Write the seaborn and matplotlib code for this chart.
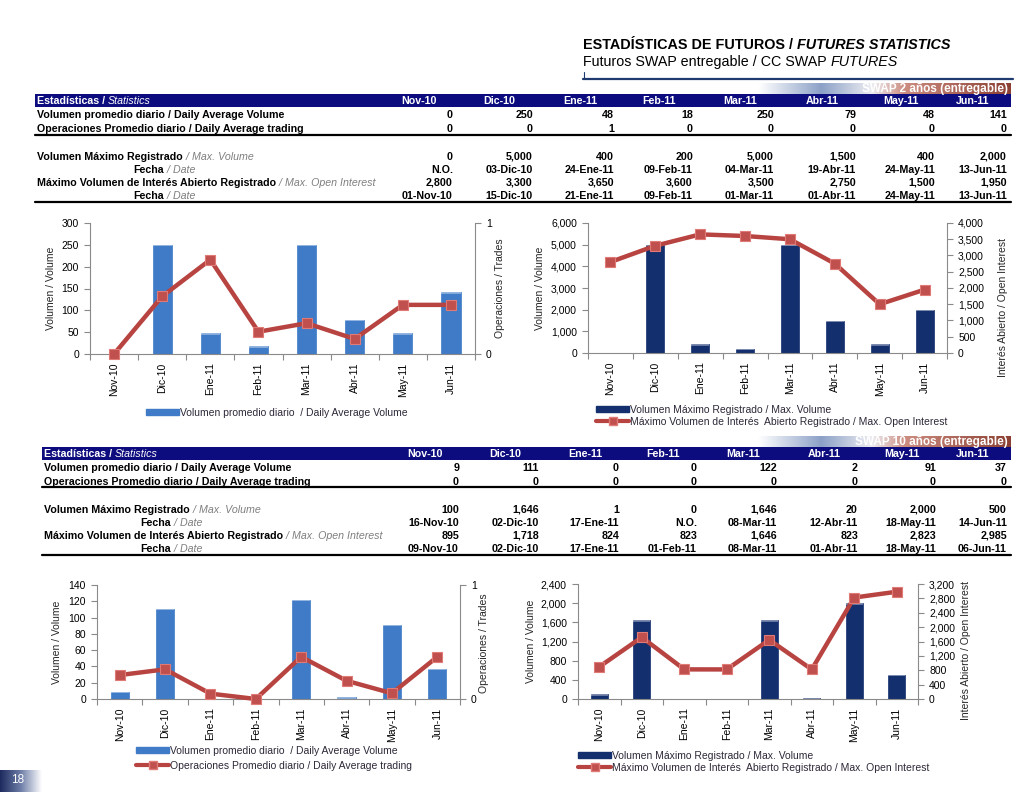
import numpy as np
import pandas as pd
import matplotlib
matplotlib.use("Agg")
import matplotlib.pyplot as plt
import seaborn as sns
from matplotlib.colors import LinearSegmentedColormap
from matplotlib.patches import Rectangle
from matplotlib.lines import Line2D

sns.set_theme(style="white")
plt.rcParams['font.family'] = ['Liberation Sans', 'DejaVu Sans']

# ---- data ----
months = ['Nov-10', 'Dic-10', 'Ene-11', 'Feb-11', 'Mar-11', 'Abr-11', 'May-11', 'Jun-11']

# SWAP 2 años
s2_avg_vol = [0, 250, 48, 18, 250, 79, 48, 141]
s2_avg_trades_tbl = [0, 0, 1, 0, 0, 0, 0, 0]
s2_avg_trades = [0.0, 0.44, 0.72, 0.17, 0.235, 0.115, 0.375, 0.375]
s2_max_vol = [0, 5000, 400, 200, 5000, 1500, 400, 2000]
s2_max_vol_date = ['N.O.', '03-Dic-10', '24-Ene-11', '09-Feb-11', '04-Mar-11', '19-Abr-11', '24-May-11', '13-Jun-11']
s2_max_oi = [2800, 3300, 3650, 3600, 3500, 2750, 1500, 1950]
s2_max_oi_date = ['01-Nov-10', '15-Dic-10', '21-Ene-11', '09-Feb-11', '01-Mar-11', '01-Abr-11', '24-May-11', '13-Jun-11']

# SWAP 10 años
s10_avg_vol = [9, 111, 0, 0, 122, 2, 91, 37]
s10_avg_trades_tbl = [0, 0, 0, 0, 0, 0, 0, 0]
s10_avg_trades = [0.21, 0.26, 0.047, 0.0, 0.37, 0.16, 0.05, 0.37]
s10_max_vol = [100, 1646, 1, 0, 1646, 20, 2000, 500]
s10_max_vol_date = ['16-Nov-10', '02-Dic-10', '17-Ene-11', 'N.O.', '08-Mar-11', '12-Abr-11', '18-May-11', '14-Jun-11']
s10_max_oi = [895, 1718, 824, 823, 1646, 823, 2823, 2985]
s10_max_oi_date = ['09-Nov-10', '02-Dic-10', '17-Ene-11', '01-Feb-11', '08-Mar-11', '01-Abr-11', '18-May-11', '06-Jun-11']

W, H = 1024, 792
fig = plt.figure(figsize=(W / 100, H / 100), dpi=100)
fig.patch.set_facecolor('white')
renderer = fig.canvas.get_renderer()

NAVY = '#0c0c7e'
GRAY_AX = '#8a8a8a'
RED = '#c0504d'
TFS = 7.7  # table font size


def fx(x):
    return x / W


def fy(y):
    return 1 - y / H


def put(x, y, s, fs, **kw):
    # y is the visual middle of capitals; place on baseline so all rows line up
    return fig.text(fx(x), fy(y + fs * 0.5), s, fontsize=fs, va='baseline', **kw)


def put_pair(x, y, s1, s2, fs, kw1, kw2):
    # two styled pieces of text, one after the other
    t = put(x, y, s1, fs, ha='left', **kw1)
    bb = t.get_window_extent(renderer)
    put(bb.x1 * 1.0, y, s2, fs, ha='left', **kw2)


def fmt(v):
    return f'{v:,}'


# ---- title ----
put_pair(583, 44, 'ESTADÍSTICAS DE FUTUROS / ', 'FUTURES STATISTICS', 10.4,
         dict(fontweight='bold', color='black'),
         dict(fontweight='bold', fontstyle='italic', color='black'))
put_pair(583, 61, 'Futuros SWAP entregable / CC SWAP ', 'FUTURES', 10.3,
         dict(color='black'), dict(fontstyle='italic', color='black'))
fig.add_artist(Line2D([fx(583), fx(1013)], [fy(79), fy(79)], color='#1f3a6e', lw=1.6))
fig.add_artist(Line2D([fx(584), fx(584)], [fy(72), fy(79)], color='#1f3a6e', lw=0.8))

banner_cmap = LinearSegmentedColormap.from_list('banner', [
    (0.0, (1, 1, 1)),
    (0.25, (0.55, 0.63, 0.78)),
    (0.45, (0.93, 0.93, 0.95)),
    (0.58, (0.80, 0.55, 0.50)),
    (1.0, (0.55, 0.25, 0.20)),
])


def table(top, left, shift, banner_text, avg_vol, avg_tr, max_vol, max_vol_date, max_oi, max_oi_date):
    # banner with gradient
    bax = fig.add_axes([fx(758), fy(top + 10), fx(1011) - fx(758), 11 / H])
    bax.imshow(np.linspace(0, 1, 256)[None, :], aspect='auto', cmap=banner_cmap, extent=[0, 1, 0, 1])
    bax.axis('off')
    put(1008, top + 4, banner_text, 8.5, ha='right', color='white', fontweight='bold')
    # header bar
    y0 = top + 10
    fig.add_artist(Rectangle((fx(left - 2), fy(y0 + 13)), fx(1011) - fx(left - 2), 13 / H,
                             color=NAVY, lw=0))
    put_pair(left, y0 + 6.5, 'Estadísticas / ', 'Statistics', TFS,
             dict(fontweight='bold', color='white'),
             dict(fontstyle='italic', color='white'))
    col_r = [453, 533, 614, 693, 774, 856, 935, 1007]
    col_r = [c + s for c, s in zip(col_r, shift)]
    for c, m in zip(col_r, months):
        put(c - 34, y0 + 6.5, m, TFS, ha='center', color='white', fontweight='bold')
    rows = [y0 + 20, y0 + 34, y0 + 62, y0 + 75, y0 + 88, y0 + 101]
    bold = dict(fontweight='bold', color='black')
    ital = dict(fontstyle='italic', color='#7f7f7f')
    put(left, rows[0], 'Volumen promedio diario / Daily Average Volume', TFS, **bold)
    put(left, rows[1], 'Operaciones Promedio diario / Daily Average trading', TFS, **bold)
    put_pair(left, rows[2], 'Volumen Máximo Registrado', ' / Max. Volume', TFS, bold, ital)
    put_pair(left + 96, rows[3], 'Fecha', ' / Date', TFS, bold, ital)
    put_pair(left, rows[4], 'Máximo Volumen de Interés Abierto Registrado', ' / Max. Open Interest',
             TFS, bold, ital)
    put_pair(left + 96, rows[5], 'Fecha', ' / Date', TFS, bold, ital)
    series = [[fmt(v) for v in avg_vol], [fmt(v) for v in avg_tr], [fmt(v) for v in max_vol],
              max_vol_date, [fmt(v) for v in max_oi], max_oi_date]
    for ry, vals in zip(rows, series):
        for c, v in zip(col_r, vals):
            put(c, ry, v, TFS, ha='right', **bold)
    for ly in (rows[1] + 6.5, rows[5] + 7):
        fig.add_artist(Line2D([fx(left - 2), fx(1011)], [fy(ly), fy(ly)], color='black', lw=1.6))


table(84, 37, [0] * 8, 'SWAP 2 años (entregable)', s2_avg_vol, s2_avg_trades_tbl,
      s2_max_vol, s2_max_vol_date, s2_max_oi, s2_max_oi_date)
table(437, 44, [6, 6, 5, 4, 3, 2, 1, 0], 'SWAP 10 años (entregable)', s10_avg_vol, s10_avg_trades_tbl,
      s10_max_vol, s10_max_vol_date, s10_max_oi, s10_max_oi_date)


# ---- charts ----
def combo(box, bars, line, bar_color, ymax, ystep, y2max, y2step, ylab2, lab_x, lab2_x, lab2_y,
          thousands=False):
    l, t, r, b = box
    ax = fig.add_axes([fx(l), fy(b), fx(r) - fx(l), (b - t) / H])
    df = pd.DataFrame({'mes': months, 'vol': bars})
    sns.barplot(data=df, x='mes', y='vol', color=bar_color, width=0.4, saturation=1,
                edgecolor=bar_color, linewidth=0.5, ax=ax)
    # light top highlight on each bar
    for p in ax.patches:
        hgt = p.get_height()
        if hgt > 0:
            ax.add_patch(Rectangle((p.get_x(), hgt - ymax * 0.012), p.get_width(), ymax * 0.012,
                                   color='white', alpha=0.35, lw=0))
    ax.set_xlim(-0.5, len(months) - 0.5)
    ax.set_ylim(0, ymax)
    ax.set_yticks(np.arange(0, ymax + 1, ystep))
    if thousands:
        ax.set_yticklabels([f'{int(v):,}' for v in np.arange(0, ymax + 1, ystep)])
    ax.set_xlabel('')
    ax.set_ylabel('')
    ax.set_xticks(range(len(months)))
    ax.set_xticklabels(months, rotation=90)
    ax.set_xticks(np.arange(-0.5, len(months)), minor=True)
    ax.tick_params(axis='x', which='major', length=0, pad=6, labelsize=7.5, labelcolor='black')
    ax.tick_params(axis='x', which='minor', length=4, width=0.8, color=GRAY_AX, direction='out', bottom=True)
    ax.tick_params(axis='y', length=4, width=0.8, color=GRAY_AX, direction='out', left=True,
                   labelsize=7.5, pad=4, labelcolor='black')
    for s in ('top', 'right'):
        ax.spines[s].set_visible(False)
    for s in ('left', 'bottom'):
        ax.spines[s].set_color(GRAY_AX)
        ax.spines[s].set_linewidth(0.8)
    ax.grid(False)

    ax2 = ax.twinx()
    sns.lineplot(x=np.arange(len(months)), y=line, ax=ax2, color='#b84441', lw=3.2,
                 marker='s', markersize=7, markerfacecolor=RED, markeredgecolor='#e07a76',
                 markeredgewidth=0.8, zorder=5, clip_on=False)
    ax2.set_ylim(0, y2max)
    ax2.set_yticks(np.arange(0, y2max + y2step / 2, y2step))
    if thousands:
        ax2.set_yticklabels([f'{int(v):,}' for v in np.arange(0, y2max + y2step / 2, y2step)])
    ax2.tick_params(axis='y', length=4, width=0.8, color=GRAY_AX, direction='out', right=True,
                    labelsize=7.5, pad=4, labelcolor='black')
    for s in ('top', 'left', 'bottom'):
        ax2.spines[s].set_visible(False)
    ax2.spines['right'].set_color(GRAY_AX)
    ax2.spines['right'].set_linewidth(0.8)
    ax2.grid(False)
    ax2.set_ylabel('')
    ax.set_xlim(-0.5, len(months) - 0.5)

    fig.text(fx(lab_x), fy((t + b) / 2), 'Volumen / Volume', rotation=90, ha='center', va='center',
             fontsize=7.5)
    fig.text(fx(lab2_x), fy(lab2_y), ylab2, rotation=90, ha='center', va='center', fontsize=7.5)
    return ax


combo((90, 223, 475, 354), s2_avg_vol, s2_avg_trades, '#3f7bc6', 300, 50, 1, 1,
      'Operaciones / Trades', 51, 500, 288)
combo((588, 223, 947, 353), s2_max_vol, s2_max_oi, '#132f6e', 6000, 1000, 4000, 500,
      'Interés Abierto / Open Interest', 540, 1003, 308, thousands=True)
combo((97, 585, 460, 699), s10_avg_vol, s10_avg_trades, '#3f7bc6', 140, 20, 1, 1,
      'Operaciones / Trades', 57, 484, 643)
combo((578, 584, 918, 699), s10_max_vol, s10_max_oi, '#132f6e', 2400, 400, 3200, 400,
      'Interés Abierto / Open Interest', 531, 966, 651, thousands=True)


# ---- legends ----
def bar_handle(color):
    return Rectangle((0, 0), 1, 1, facecolor=color, edgecolor=color)


def line_handle():
    return Line2D([], [], color='#b84441', lw=3, marker='s', markersize=6,
                  markerfacecolor=RED, markeredgecolor='#e07a76')


def legend(x, y, handles, labels, spacing=0.15):
    fig.legend(handles, labels, loc='upper left', bbox_to_anchor=(fx(x), fy(y)), frameon=False,
               fontsize=7.5, handlelength=3.2, handleheight=0.5, handletextpad=0.1,
               labelspacing=spacing, borderpad=0, borderaxespad=0, labelcolor='#2e2838')


legend(146, 408, [bar_handle('#3f7bc6')], ['Volumen promedio diario  / Daily Average Volume'])
legend(596, 405, [bar_handle('#132f6e'), line_handle()],
       ['Volumen Máximo Registrado / Max. Volume',
        'Máximo Volumen de Interés  Abierto Registrado / Max. Open Interest'])
legend(136, 746, [bar_handle('#3f7bc6'), line_handle()],
       ['Volumen promedio diario  / Daily Average Volume',
        'Operaciones Promedio diario / Daily Average trading'], spacing=0.45)
legend(578, 751, [bar_handle('#132f6e'), line_handle()],
       ['Volumen Máximo Registrado / Max. Volume',
        'Máximo Volumen de Interés  Abierto Registrado / Max. Open Interest'])

# ---- page number box ----
pax = fig.add_axes([0, 0, fx(42), 22 / H])
pcmap = LinearSegmentedColormap.from_list('pg', ['#1c2a5e', '#6f7fa8', '#ffffff'])
pax.imshow(np.linspace(0, 1, 128)[None, :], aspect='auto', cmap=pcmap, extent=[0, 1, 0, 1])
pax.axis('off')
fig.text(fx(18), fy(780), '18', ha='center', va='center', color='white', fontsize=8.5)

fig.savefig('out.png', dpi=100, facecolor='white')
